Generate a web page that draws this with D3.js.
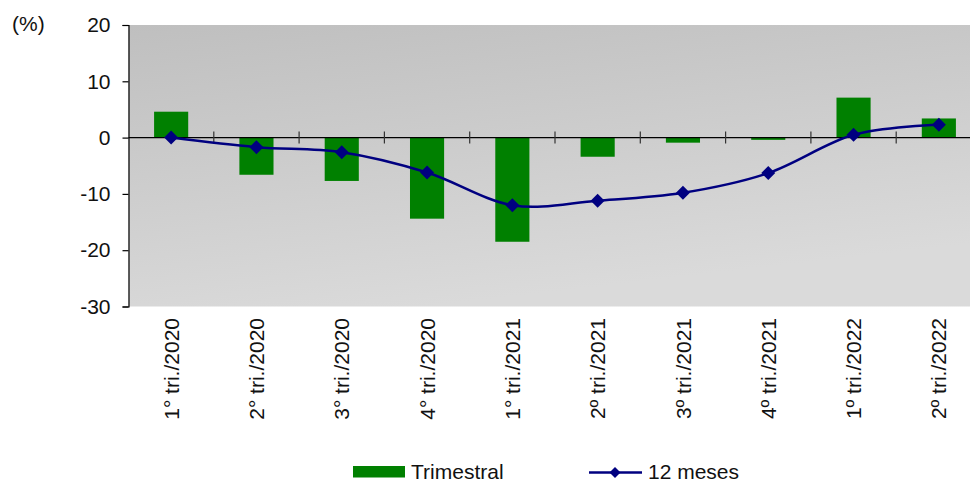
<!DOCTYPE html>
<html>
<head>
<meta charset="utf-8">
<script src="https://cdn.jsdelivr.net/npm/d3@7"></script>
<style>
    body { margin: 0; background: #fff; }
    svg { display: block; font-family: "Liberation Sans", Arial, sans-serif; }
</style>
</head>
<body>
<svg id="chart" width="970" height="481"></svg>
<script>
const categories = ["1° tri./2020", "2° tri./2020", "3° tri./2020", "4° tri./2020",
    "1° tri./2021", "2º tri./2021", "3º tri./2021", "4º tri./2021", "1º tri./2022", "2º tri./2022"];
const trimestral = [4.6, -6.6, -7.7, -14.4, -18.5, -3.4, -0.9, -0.4, 7.1, 3.4];
const dozeMeses = [0.0, -1.7, -2.6, -6.2, -12.0, -11.2, -9.8, -6.3, 0.5, 2.3];
const yTicks = [20, 10, 0, -10, -20, -30];
const legendLabels = ["Trimestral", "12 meses"];

const GREEN = "#008000";
const NAVY = "#000080";
const FONT_SIZE = 21;

// plot area runs a bit past the right edge of the window, like the original
const plot = { left: 128.5, top: 25, right: 981.5, bottom: 306.5 };

const svg = d3.select("#chart");

const x = d3.scaleBand()
    .domain(categories)
    .range([plot.left, plot.right])
    .padding(0);

const y = d3.scaleLinear()
    .domain([-30, 20])
    .range([plot.bottom, plot.top]);

// background gradient
const defs = svg.append("defs");
const grad = defs.append("linearGradient")
    .attr("id", "bgGrad")
    .attr("x1", "0").attr("y1", "0")
    .attr("x2", "0.35").attr("y2", "1");
grad.append("stop").attr("offset", "0%").attr("stop-color", "#bfbfbf");
grad.append("stop").attr("offset", "100%").attr("stop-color", "#dadada");

svg.append("rect")
    .attr("x", plot.left)
    .attr("y", plot.top)
    .attr("width", plot.right - plot.left)
    .attr("height", plot.bottom - plot.top)
    .attr("fill", "url(#bgGrad)");

// bars
const bw = x.bandwidth() * 0.4;
svg.append("g")
    .selectAll("rect")
    .data(trimestral)
    .join("rect")
    .attr("x", (d, i) => x(categories[i]) + (x.bandwidth() - bw) / 2)
    .attr("y", d => y(Math.max(0, d)))
    .attr("width", bw)
    .attr("height", d => Math.abs(y(d) - y(0)))
    .attr("fill", GREEN);

// zero line with category ticks crossing it
const xAxis = svg.append("g");
xAxis.append("line")
    .attr("x1", plot.left).attr("x2", plot.right)
    .attr("y1", y(0)).attr("y2", y(0))
    .attr("stroke", "#000").attr("stroke-width", 1.2);
xAxis.selectAll("line.tick")
    .data(categories.slice(1))
    .join("line")
    .attr("class", "tick")
    .attr("x1", d => x(d)).attr("x2", d => x(d))
    .attr("y1", y(0) - 6).attr("y2", y(0) + 6)
    .attr("stroke", "#333").attr("stroke-width", 1.2);

// y axis (plain hyphen for negatives, as in the original)
const yAxis = svg.append("g")
    .attr("transform", "translate(" + plot.left + ",0)")
    .call(d3.axisLeft(y).tickValues(yTicks).tickSize(6).tickPadding(12).tickFormat(d => String(d)));
yAxis.select(".domain").attr("stroke", "#000").attr("stroke-width", 1.2);
yAxis.selectAll(".tick line").attr("stroke", "#000").attr("stroke-width", 1.2);
yAxis.selectAll(".tick text")
    .attr("font-size", FONT_SIZE)
    .attr("font-family", "Liberation Sans, Arial, sans-serif")
    .attr("fill", "#111");

svg.append("text")
    .attr("x", 12)
    .attr("y", 24)
    .attr("dy", "0.35em")
    .attr("font-size", FONT_SIZE)
    .attr("fill", "#111")
    .text("(%)");

// category labels, rotated
svg.append("g")
    .selectAll("text")
    .data(categories)
    .join("text")
    .attr("transform", d => "translate(" + (x(d) + x.bandwidth() / 2) + ",318) rotate(-90)")
    .attr("text-anchor", "end")
    .attr("dy", "0.36em")
    .attr("font-size", FONT_SIZE)
    .attr("fill", "#111")
    .text(d => d);

// 12 month line
const cx = (d, i) => x(categories[i]) + x.bandwidth() / 2;
const line = d3.line()
    .x(cx)
    .y(d => y(d))
    .curve(d3.curveCatmullRom.alpha(0));

svg.append("path")
    .datum(dozeMeses)
    .attr("d", line)
    .attr("fill", "none")
    .attr("stroke", NAVY)
    .attr("stroke-width", 2.5);

svg.append("g")
    .selectAll("path")
    .data(dozeMeses)
    .join("path")
    .attr("transform", (d, i) => "translate(" + cx(d, i) + "," + y(d) + ") rotate(45)")
    .attr("d", d3.symbol().type(d3.symbolSquare).size(98))
    .attr("fill", NAVY);

// legend
const legend = svg.append("g");
legend.append("rect")
    .attr("x", 353).attr("y", 466)
    .attr("width", 52).attr("height", 11.5)
    .attr("fill", GREEN);
legend.append("text")
    .attr("x", 411).attr("y", 478.5)
    .attr("font-size", FONT_SIZE)
    .attr("fill", "#111")
    .text(legendLabels[0]);
legend.append("line")
    .attr("x1", 589).attr("x2", 642)
    .attr("y1", 472.5).attr("y2", 472.5)
    .attr("stroke", NAVY).attr("stroke-width", 2.5);
legend.append("path")
    .attr("transform", "translate(615,472.5) rotate(45)")
    .attr("d", d3.symbol().type(d3.symbolSquare).size(60))
    .attr("fill", NAVY);
legend.append("text")
    .attr("x", 648).attr("y", 478.5)
    .attr("font-size", FONT_SIZE)
    .attr("fill", "#111")
    .text(legendLabels[1]);
</script>
</body>
</html>
